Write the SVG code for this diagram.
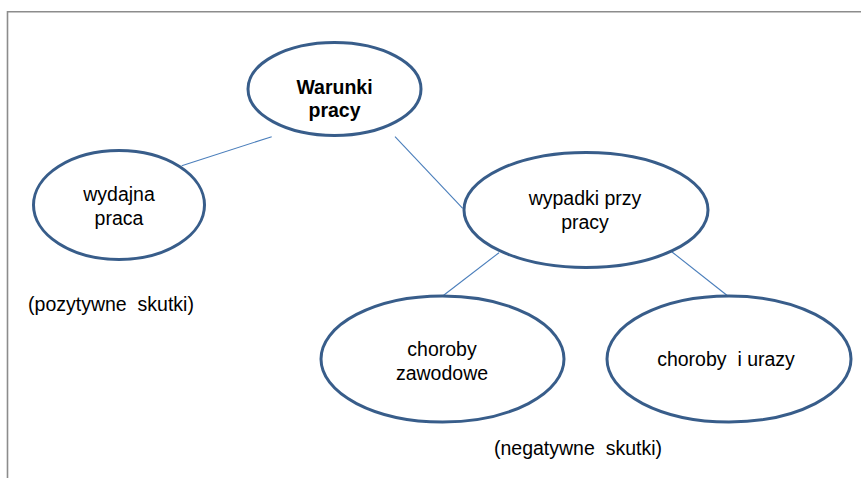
<svg xmlns="http://www.w3.org/2000/svg" width="861" height="478" viewBox="0 0 861 478">
<style>
.node{fill:#ffffff;stroke:#385d8a;stroke-width:3}
.lbl{font-family:"Liberation Sans",Arial,sans-serif;font-size:19.5px;fill:#000;text-anchor:middle}
.b{font-weight:bold}
.conn line{stroke:#4a7ebb;stroke-width:1.1}
.frame{stroke:#8c8c8c;stroke-width:1.6;fill:none}
</style>
<rect width="861" height="478" fill="#ffffff"/>
<path class="frame" d="M7.5 478 V11.7 H861"/>
<g id="connectors" class="conn">
<line x1="271.7" y1="136.7" x2="181.7" y2="165.7"/>
<line x1="395" y1="136.7" x2="462.7" y2="208.3"/>
<line x1="499" y1="252.7" x2="443" y2="295.8"/>
<line x1="671.7" y1="251.7" x2="727.5" y2="295.8"/>
</g>
<g id="warunki">
<ellipse class="node" cx="334.5" cy="89" rx="86.5" ry="46.5"/>
<text class="lbl b" x="334.5" y="94">Warunki</text>
<text class="lbl b" x="334.5" y="117">pracy</text>
</g>
<g id="wydajna">
<ellipse class="node" cx="119" cy="205" rx="85.5" ry="54.5"/>
<text class="lbl" x="119" y="201">wydajna</text>
<text class="lbl" x="119" y="225">praca</text>
</g>
<g id="wypadki">
<ellipse class="node" cx="586" cy="210" rx="122" ry="57.5"/>
<text class="lbl" x="585" y="205">wypadki przy</text>
<text class="lbl" x="585" y="229">pracy</text>
</g>
<g id="zawodowe">
<ellipse class="node" cx="442.5" cy="359" rx="121.5" ry="63"/>
<text class="lbl" x="442" y="356">choroby</text>
<text class="lbl" x="442" y="380">zawodowe</text>
</g>
<g id="urazy">
<ellipse class="node" cx="729" cy="359" rx="122" ry="63"/>
<text class="lbl" x="726" y="366" xml:space="preserve">choroby  i urazy</text>
</g>
<text class="lbl" x="111" y="311" xml:space="preserve">(pozytywne  skutki)</text>
<text class="lbl" x="578" y="455" xml:space="preserve">(negatywne  skutki)</text>
</svg>
